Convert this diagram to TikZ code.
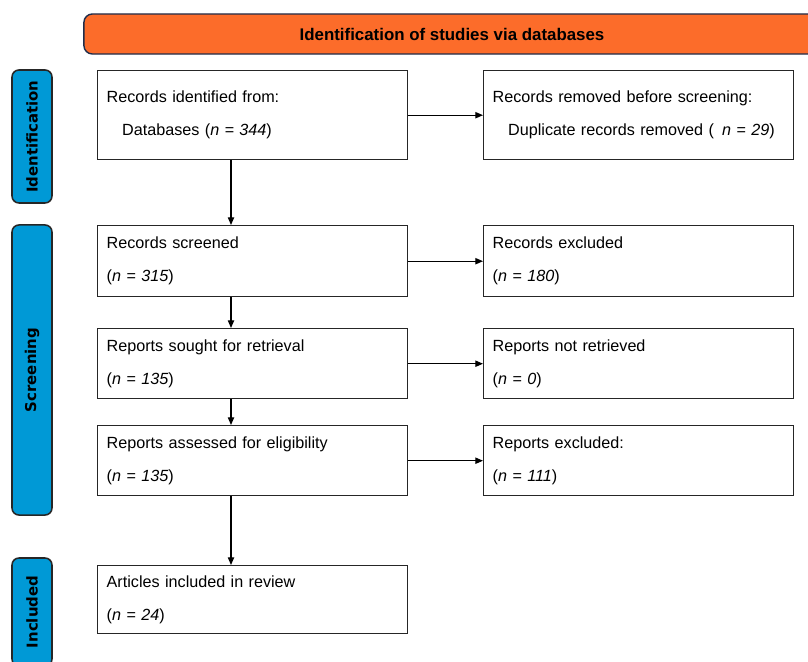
\documentclass[tikz,border=0pt]{standalone}
\usepackage{fontspec}
\setmainfont{Liberation Sans}
\newfontfamily\sidefont{DejaVu Sans}
\usetikzlibrary{arrows.meta}
\definecolor{headorange}{RGB}{252,108,42}
\definecolor{headline}{RGB}{30,45,75}
\definecolor{sideblue}{RGB}{0,153,214}

\begin{document}
\begin{tikzpicture}[x=0.025cm, y=-0.025cm,
	box/.style={draw=black!85, line width=1pt, anchor=north west, align=left,
		minimum width=7.75cm, text width=7.3cm, inner xsep=0.225cm,
		font=\fontsize{11.5pt}{23.4pt}\selectfont},
	sidebar/.style={draw=black!85, line width=1.1pt, fill=sideblue, rounded corners=5pt,
		rotate=90, minimum height=1cm, font=\sidefont\bfseries\fontsize{10.6pt}{12pt}\selectfont},
	arr/.style={line width=0.9pt, -{Triangle[length=5.5pt,width=4.5pt]}}]
			%%%%% START %%%%%
			
			\clip (0, 0) rectangle (808, 662);
			\fill[white] (0, 0) rectangle (808, 662);
			
			% header
			\node[draw=headline, line width=1pt, fill=headorange, rounded corners=6pt,
				minimum width=18.4cm, minimum height=1cm,
				font=\bfseries\fontsize{12pt}{14pt}\selectfont] (head) at (452, 34) {Identification of studies via databases};
			
			% phase bars
			\node[sidebar, minimum width=3.325cm] (idbar) at (32, 136.5) {Identification};
			\node[sidebar, minimum width=7.25cm] (scrbar) at (32, 370) {Screening};
			\node[sidebar, minimum width=2.7cm] (incbar) at (32, 612) {Included};
			
			% left column
			\node[box, minimum height=2.225cm] (ident) at (97, 70) {Records identified from:\\\hspace*{11pt}Databases (\textit{n = 344})};
			\node[box, minimum height=1.775cm] (screen) at (97, 225) {Records screened\\(\textit{n = 315})};
			\node[box, minimum height=1.75cm] (sought) at (97, 328) {Reports sought for retrieval\\(\textit{n = 135})};
			\node[box, minimum height=1.75cm] (assess) at (97, 425) {Reports assessed for eligibility\\(\textit{n = 135})};
			\node[box, minimum height=1.7cm] (incl) at (97, 565) {Articles included in review\\(\textit{n = 24})};
			
			% right column
			\node[box, minimum height=2.225cm] (dupl) at (483, 70) {Records removed before screening:\\\hspace*{11pt}Duplicate records removed (\ \,\textit{n = 29})};
			\node[box, minimum height=1.775cm] (excl) at (483, 225) {Records excluded\\(\textit{n = 180})};
			\node[box, minimum height=1.75cm] (notret) at (483, 328) {Reports not retrieved\\(\textit{n = 0})};
			\node[box, minimum height=1.75cm] (repexcl) at (483, 425) {Reports excluded:\\(\textit{n = 111})};
			
			% arrows
			\coordinate (ax) at (231, 0);
			\draw[arr] (ident.south -| ax) -- (screen.north -| ax);
			\draw[arr] (screen.south -| ax) -- (sought.north -| ax);
			\draw[arr] (sought.south -| ax) -- (assess.north -| ax);
			\draw[arr] (assess.south -| ax) -- (incl.north -| ax);
			
			\draw[arr] (ident.east) -- (dupl.west);
			\draw[arr] (screen.east) -- (excl.west);
			\draw[arr] (sought.east) -- (notret.west);
			\draw[arr] (assess.east) -- (repexcl.west);
			
			%%%%% END %%%%%
\end{tikzpicture}
\end{document}
